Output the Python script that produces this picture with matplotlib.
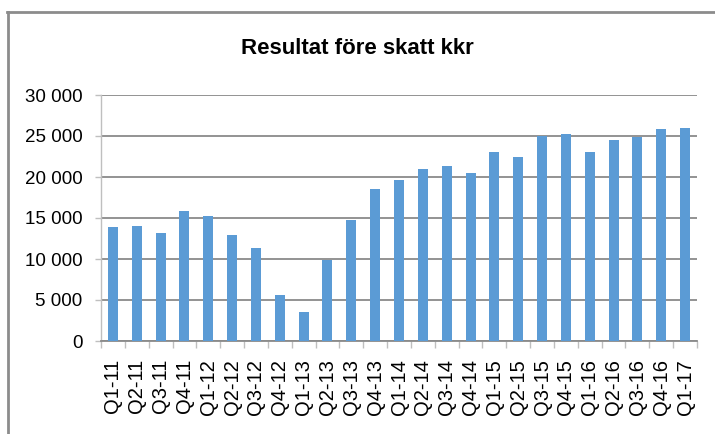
import matplotlib
matplotlib.use("Agg")
import matplotlib.pyplot as plt
from matplotlib.lines import Line2D
import numpy as np

categories = ["Q1-11", "Q2-11", "Q3-11", "Q4-11", "Q1-12", "Q2-12", "Q3-12", "Q4-12",
              "Q1-13", "Q2-13", "Q3-13", "Q4-13", "Q1-14", "Q2-14", "Q3-14", "Q4-14",
              "Q1-15", "Q2-15", "Q3-15", "Q4-15", "Q1-16", "Q2-16", "Q3-16", "Q4-16", "Q1-17"]
values = [13900, 14000, 13200, 15800, 15200, 12900, 11300, 5600,
          3500, 9900, 14700, 18500, 19600, 21000, 21300, 20500,
          23000, 22400, 25000, 25200, 23000, 24550, 24900, 25800, 26000]
yticks = [0, 5000, 10000, 15000, 20000, 25000, 30000]
ytick_labels = ["0", "5 000", "10 000", "15 000", "20 000", "25 000", "30 000"]
title = "Resultat före skatt kkr"

plt.rcParams['font.family'] = ['Liberation Sans', 'DejaVu Sans']

W, H = 715, 434
fig = plt.figure(figsize=(W / 100, H / 100), dpi=100)
ax = fig.add_axes([101 / W, 1 - 341 / H, (697 - 101) / W, (341 - 95) / H])

x = np.arange(len(categories))
ax.bar(x, values, width=0.42, color="#5B9BD5", zorder=3)

ax.set_xlim(-0.5, len(categories) - 0.5)
ax.set_ylim(0, 30000)
ax.set_yticks(yticks)
ax.set_yticklabels(ytick_labels, fontsize=13.5)
ax.yaxis.grid(True, color="#8a8a8a", linewidth=1.3, zorder=0)
ax.set_axisbelow(True)
ax.tick_params(axis="y", length=4.5, width=1, color="#bfbfbf", pad=9, direction="out")

ax.set_xticks(x)
ax.set_xticklabels(categories, rotation=90, fontsize=14.5, va="top")
ax.tick_params(axis="x", which="major", length=0, pad=13)
ax.set_xticks(np.arange(-0.5, len(categories) + 0.5, 1), minor=True)
ax.tick_params(axis="x", which="minor", length=5, width=1, color="#bfbfbf", direction="out")

for s in ["top", "right"]:
    ax.spines[s].set_visible(False)
ax.spines["left"].set_color("#bfbfbf")
ax.spines["left"].set_linewidth(1)
ax.spines["bottom"].set_color("#8a8a8a")
ax.spines["bottom"].set_linewidth(1.3)

fig.text(357 / W, 1 - 48 / H, title, ha="center", va="center", fontsize=16,
         fontweight="bold", color="black")

# outer chart frame (right and bottom cropped out of the picture)
fig.add_artist(Line2D([7 / W, 1.0], [1 - 12 / H, 1 - 12 / H], transform=fig.transFigure,
                      color="#8c8c8c", linewidth=2))
fig.add_artist(Line2D([8 / W, 8 / W], [0, 1 - 12 / H], transform=fig.transFigure,
                      color="#8c8c8c", linewidth=2))

fig.savefig("out.png", dpi=100)
